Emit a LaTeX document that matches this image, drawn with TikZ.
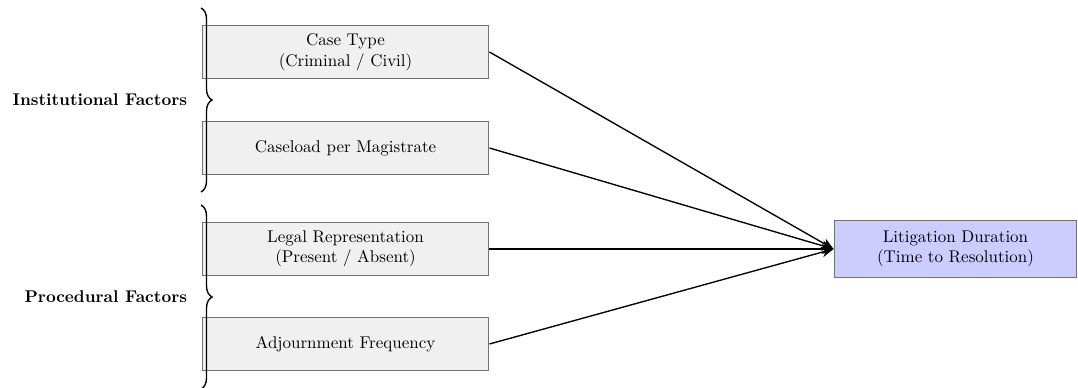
\documentclass[tikz,border=0pt]{standalone}
\usetikzlibrary{arrows.meta,decorations.pathreplacing}
\begin{document}
\begin{tikzpicture}[x=0.0207cm,y=-0.0207cm,
  factor/.style={draw=black!55,fill=black!6,line width=0.6pt,minimum width=5.94cm,minimum height=1.08cm,align=center,inner sep=0pt},
  outcome/.style={draw=black!55,fill=blue!20,line width=0.6pt,minimum width=5.03cm,minimum height=1.2cm,align=center,inner sep=0pt},
  conn/.style={thick,-{Stealth[length=7pt,width=6pt]}},
  grpbrace/.style={decorate,decoration={brace,amplitude=6.5pt},thick},
  grplabel/.style={anchor=east,font=\bfseries}]
\useasboundingbox (0,0) rectangle (1078,388);
\node[factor] (ct) at (345.5,52) {Case Type\\(Criminal / Civil)};
\node[factor] (cm) at (345.5,148) {Caseload per Magistrate};
\node[factor] (lr) at (345.5,249) {Legal Representation\\(Present / Absent)};
\node[factor] (af) at (345.5,344) {Adjournment Frequency};
\node[outcome] (ld) at (955.5,249) {Litigation Duration\\(Time to Resolution)};
\coordinate (b1t) at (201,8);
\coordinate (b1b) at (201,192);
\coordinate (b2t) at (201,205);
\coordinate (b2b) at (201,389);
\draw[grpbrace] (b1t) -- (b1b);
\draw[grpbrace] (b2t) -- (b2b);
\node[grplabel] (inst) at (193,100) {Institutional Factors};
\node[grplabel] (proc) at (193,297) {Procedural Factors};
\draw[conn] (ct.east) -- (ld.west);
\draw[conn] (cm.east) -- (ld.west);
\draw[conn] (lr.east) -- (ld.west);
\draw[conn] (af.east) -- (ld.west);
\end{tikzpicture}
\end{document}
